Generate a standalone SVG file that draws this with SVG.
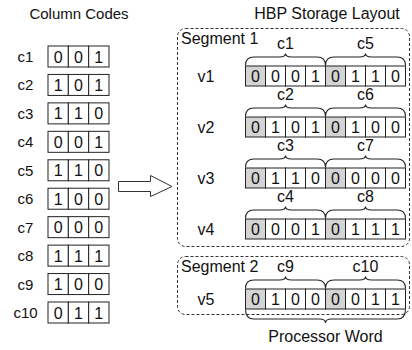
<svg xmlns="http://www.w3.org/2000/svg" width="412" height="350" viewBox="0 0 412 350">
<style>
text{font-family:"Liberation Sans",Arial,sans-serif;fill:#111}
.t{font-size:15px;text-anchor:middle}
.l{font-size:15px;text-anchor:middle}
.r{font-size:16px;text-anchor:middle}
.d{font-size:16px;text-anchor:middle}
.c{fill:#fff;stroke:#222;stroke-width:1}
.g{fill:#d4d4d4;stroke:#222;stroke-width:1}
.seg{fill:none;stroke:#333;stroke-width:1;stroke-dasharray:3,2}
.br{fill:none;stroke:#222;stroke-width:1.1}
</style>
<text class="t" x="79" y="19">Column Codes</text>
<text class="r" x="327" y="19">HBP Storage Layout</text>

<g id="c1" transform="translate(0,46)"><text class="l" x="25.5" y="16">c1</text><rect class="c" x="48" y="0" width="20.33" height="21"/><rect class="c" x="68.33" y="0" width="20.33" height="21"/><rect class="c" x="88.67" y="0" width="20.33" height="21"/><text class="d" x="58.2" y="16.5">0</text><text class="d" x="78.5" y="16.5">0</text><text class="d" x="98.8" y="16.5">1</text></g>
<g id="c2" transform="translate(0,74.44)"><text class="l" x="25.5" y="16">c2</text><rect class="c" x="48" y="0" width="20.33" height="21"/><rect class="c" x="68.33" y="0" width="20.33" height="21"/><rect class="c" x="88.67" y="0" width="20.33" height="21"/><text class="d" x="58.2" y="16.5">1</text><text class="d" x="78.5" y="16.5">0</text><text class="d" x="98.8" y="16.5">1</text></g>
<g id="c3" transform="translate(0,102.88)"><text class="l" x="25.5" y="16">c3</text><rect class="c" x="48" y="0" width="20.33" height="21"/><rect class="c" x="68.33" y="0" width="20.33" height="21"/><rect class="c" x="88.67" y="0" width="20.33" height="21"/><text class="d" x="58.2" y="16.5">1</text><text class="d" x="78.5" y="16.5">1</text><text class="d" x="98.8" y="16.5">0</text></g>
<g id="c4" transform="translate(0,131.33)"><text class="l" x="25.5" y="16">c4</text><rect class="c" x="48" y="0" width="20.33" height="21"/><rect class="c" x="68.33" y="0" width="20.33" height="21"/><rect class="c" x="88.67" y="0" width="20.33" height="21"/><text class="d" x="58.2" y="16.5">0</text><text class="d" x="78.5" y="16.5">0</text><text class="d" x="98.8" y="16.5">1</text></g>
<g id="c5" transform="translate(0,159.77)"><text class="l" x="25.5" y="16">c5</text><rect class="c" x="48" y="0" width="20.33" height="21"/><rect class="c" x="68.33" y="0" width="20.33" height="21"/><rect class="c" x="88.67" y="0" width="20.33" height="21"/><text class="d" x="58.2" y="16.5">1</text><text class="d" x="78.5" y="16.5">1</text><text class="d" x="98.8" y="16.5">0</text></g>
<g id="c6" transform="translate(0,188.22)"><text class="l" x="25.5" y="16">c6</text><rect class="c" x="48" y="0" width="20.33" height="21"/><rect class="c" x="68.33" y="0" width="20.33" height="21"/><rect class="c" x="88.67" y="0" width="20.33" height="21"/><text class="d" x="58.2" y="16.5">1</text><text class="d" x="78.5" y="16.5">0</text><text class="d" x="98.8" y="16.5">0</text></g>
<g id="c7" transform="translate(0,216.66)"><text class="l" x="25.5" y="16">c7</text><rect class="c" x="48" y="0" width="20.33" height="21"/><rect class="c" x="68.33" y="0" width="20.33" height="21"/><rect class="c" x="88.67" y="0" width="20.33" height="21"/><text class="d" x="58.2" y="16.5">0</text><text class="d" x="78.5" y="16.5">0</text><text class="d" x="98.8" y="16.5">0</text></g>
<g id="c8" transform="translate(0,245.11)"><text class="l" x="25.5" y="16">c8</text><rect class="c" x="48" y="0" width="20.33" height="21"/><rect class="c" x="68.33" y="0" width="20.33" height="21"/><rect class="c" x="88.67" y="0" width="20.33" height="21"/><text class="d" x="58.2" y="16.5">1</text><text class="d" x="78.5" y="16.5">1</text><text class="d" x="98.8" y="16.5">1</text></g>
<g id="c9" transform="translate(0,273.55)"><text class="l" x="25.5" y="16">c9</text><rect class="c" x="48" y="0" width="20.33" height="21"/><rect class="c" x="68.33" y="0" width="20.33" height="21"/><rect class="c" x="88.67" y="0" width="20.33" height="21"/><text class="d" x="58.2" y="16.5">1</text><text class="d" x="78.5" y="16.5">0</text><text class="d" x="98.8" y="16.5">0</text></g>
<g id="c10" transform="translate(0,302)"><text class="l" x="25.5" y="16">c10</text><rect class="c" x="48" y="0" width="20.33" height="21"/><rect class="c" x="68.33" y="0" width="20.33" height="21"/><rect class="c" x="88.67" y="0" width="20.33" height="21"/><text class="d" x="58.2" y="16.5">0</text><text class="d" x="78.5" y="16.5">1</text><text class="d" x="98.8" y="16.5">1</text></g>

<g id="segment1"><rect class="seg" x="177.5" y="28.5" width="232" height="218" rx="8"/><text class="r" x="181" y="44" style="text-anchor:start">Segment 1</text></g>
<g id="segment2"><rect class="seg" x="177.5" y="256.5" width="232" height="58" rx="8"/><text class="r" x="181" y="272" style="text-anchor:start">Segment 2</text></g>

<defs>
<g id="cells">
<rect class="g" x="245.5" y="0" width="20" height="20"/><rect class="c" x="265.5" y="0" width="20" height="20"/><rect class="c" x="285.5" y="0" width="20" height="20"/><rect class="c" x="305.5" y="0" width="20" height="20"/>
<rect class="g" x="325.5" y="0" width="20" height="20"/><rect class="c" x="345.5" y="0" width="20" height="20"/><rect class="c" x="365.5" y="0" width="20" height="20"/><rect class="c" x="385.5" y="0" width="20" height="20"/>
<path class="br" d="M245.5,-0.5 Q245.5,-9 254,-9 L279.5,-9 Q285.5,-9 285.5,-12.5 Q285.5,-9 291.5,-9 L317,-9 Q325.5,-9 325.5,-0.5 Q325.5,-9 334,-9 L359.5,-9 Q365.5,-9 365.5,-12.5 Q365.5,-9 371.5,-9 L397,-9 Q405.5,-9 405.5,-0.5"/>
</g>
</defs>

<g id="v1" transform="translate(0,66)"><use href="#cells"/><text class="r" x="206" y="15.5">v1</text><text class="r" x="285.5" y="-17">c1</text><text class="r" x="365.5" y="-17">c5</text>
<text class="d" x="255.5" y="16">0</text><text class="d" x="275.5" y="16">0</text><text class="d" x="295.5" y="16">0</text><text class="d" x="315.5" y="16">1</text><text class="d" x="335.5" y="16">0</text><text class="d" x="355.5" y="16">1</text><text class="d" x="375.5" y="16">1</text><text class="d" x="395.5" y="16">0</text></g>
<g id="v2" transform="translate(0,117)"><use href="#cells"/><text class="r" x="206" y="15.5">v2</text><text class="r" x="285.5" y="-17">c2</text><text class="r" x="365.5" y="-17">c6</text>
<text class="d" x="255.5" y="16">0</text><text class="d" x="275.5" y="16">1</text><text class="d" x="295.5" y="16">0</text><text class="d" x="315.5" y="16">1</text><text class="d" x="335.5" y="16">0</text><text class="d" x="355.5" y="16">1</text><text class="d" x="375.5" y="16">0</text><text class="d" x="395.5" y="16">0</text></g>
<g id="v3" transform="translate(0,168)"><use href="#cells"/><text class="r" x="206" y="15.5">v3</text><text class="r" x="285.5" y="-17">c3</text><text class="r" x="365.5" y="-17">c7</text>
<text class="d" x="255.5" y="16">0</text><text class="d" x="275.5" y="16">1</text><text class="d" x="295.5" y="16">1</text><text class="d" x="315.5" y="16">0</text><text class="d" x="335.5" y="16">0</text><text class="d" x="355.5" y="16">0</text><text class="d" x="375.5" y="16">0</text><text class="d" x="395.5" y="16">0</text></g>
<g id="v4" transform="translate(0,219)"><use href="#cells"/><text class="r" x="206" y="15.5">v4</text><text class="r" x="285.5" y="-17">c4</text><text class="r" x="365.5" y="-17">c8</text>
<text class="d" x="255.5" y="16">0</text><text class="d" x="275.5" y="16">0</text><text class="d" x="295.5" y="16">0</text><text class="d" x="315.5" y="16">1</text><text class="d" x="335.5" y="16">0</text><text class="d" x="355.5" y="16">1</text><text class="d" x="375.5" y="16">1</text><text class="d" x="395.5" y="16">1</text></g>
<g id="v5" transform="translate(0,289)"><use href="#cells"/><text class="r" x="206" y="15.5">v5</text><text class="r" x="285.5" y="-17">c9</text><text class="r" x="365.5" y="-17">c10</text>
<text class="d" x="255.5" y="16">0</text><text class="d" x="275.5" y="16">1</text><text class="d" x="295.5" y="16">0</text><text class="d" x="315.5" y="16">0</text><text class="d" x="335.5" y="16">0</text><text class="d" x="355.5" y="16">0</text><text class="d" x="375.5" y="16">1</text><text class="d" x="395.5" y="16">1</text></g>

<g id="processor-word"><path class="br" d="M245.5,309.5 Q245.5,319 254,319 L319.5,319 Q325.5,319 325.5,323 Q325.5,319 331.5,319 L397,319 Q405.5,319 405.5,309.5"/><text class="r" x="325.5" y="342">Processor Word</text></g>

<g id="connectors"><polygon points="118.5,181.5 150.5,181.5 150.5,175.5 172,186.5 150.5,196.5 150.5,191.5 118.5,191.5" fill="#fff" stroke="#333" stroke-width="1"/></g>
</svg>
